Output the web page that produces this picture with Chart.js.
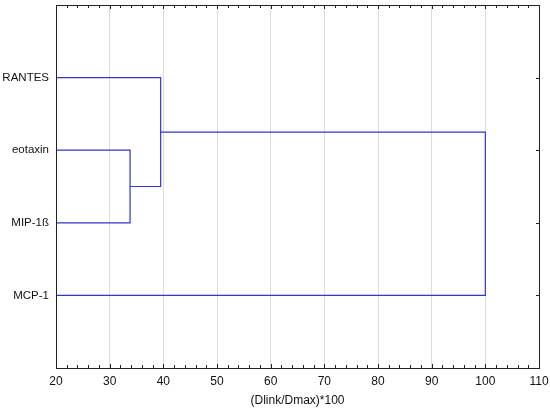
<!DOCTYPE html>
<html>
<head>
<meta charset="utf-8">
<script src="https://cdn.jsdelivr.net/npm/chart.js@4/dist/chart.umd.min.js"></script>
<style>
    body { margin: 0; background: #fff; }
</style>
</head>
<body>
<canvas id="dendro" width="550" height="409"></canvas>
<script>
// Leaves in display order (top to bottom)
const leaves = ['RANTES', 'eotaxin', 'MIP-1ß', 'MCP-1'];
// Each merge: two children (leaf index or 'c' + merge index) and linkage distance
const mergeLeft = [1, 0, 'c1'];
const mergeRight = [2, 'c0', 3];
const mergeDist = [33.8, 39.5, 100];
const xTicks = [20, 30, 40, 50, 60, 70, 80, 90, 100, 110];
const baseDist = 20;

// Work out position / height of every node, then build U-shaped paths
const nodePos = {};
const nodeHeight = {};
leaves.forEach((name, i) => {
    nodePos[i] = i + 1;
    nodeHeight[i] = baseDist;
});

const datasets = [];
mergeDist.forEach((d, i) => {
    const a = mergeLeft[i];
    const b = mergeRight[i];
    datasets.push({
        data: [
            { x: nodeHeight[a], y: nodePos[a] },
            { x: d, y: nodePos[a] },
            { x: d, y: nodePos[b] },
            { x: nodeHeight[b], y: nodePos[b] }
        ],
        showLine: true,
        borderColor: '#3535c8',
        borderWidth: 1.2,
        pointRadius: 0,
        fill: false
    });
    nodePos['c' + i] = (nodePos[a] + nodePos[b]) / 2;
    nodeHeight['c' + i] = d;
});

// Frame and inner tick marks
const framePlugin = {
    id: 'frame',
    afterDraw(chart) {
        const { ctx, chartArea: a, scales } = chart;
        ctx.save();
        ctx.strokeStyle = '#222';
        ctx.lineWidth = 1;
        ctx.beginPath();
        for (let v = 20; v <= 110; v += 2) {
            const x = Math.round(scales.x.getPixelForValue(v)) + 0.5;
            const len = v % 10 === 0 ? 4 : 3;
            ctx.moveTo(x, a.bottom);
            ctx.lineTo(x, a.bottom - len);
            ctx.moveTo(x, a.top);
            ctx.lineTo(x, a.top + len);
        }
        leaves.forEach((name, i) => {
            const y = Math.round(scales.y.getPixelForValue(i + 1)) + 0.5;
            ctx.moveTo(a.right, y);
            ctx.lineTo(a.right - 3, y);
        });
        ctx.stroke();
        ctx.strokeRect(Math.round(a.left) + 0.5, Math.round(a.top) + 0.5,
            Math.round(a.right - a.left), Math.round(a.bottom - a.top));
        ctx.restore();
    }
};

new Chart(document.getElementById('dendro'), {
    type: 'scatter',
    data: { datasets: datasets },
    options: {
        responsive: false,
        animation: false,
        layout: { autoPadding: false, padding: { top: 5, right: 11, left: 0, bottom: 0 } },
        plugins: {
            legend: { display: false },
            tooltip: { enabled: false }
        },
        scales: {
            x: {
                type: 'linear',
                min: 20,
                max: 110,
                afterBuildTicks(scale) {
                    scale.ticks = xTicks.map(v => ({ value: v }));
                },
                grid: { color: '#dcdcdc', drawTicks: false },
                border: { display: false },
                ticks: {
                    padding: 6,
                    color: '#111',
                    font: { family: 'Liberation Sans, Arial', size: 12 }
                },
                title: {
                    display: true,
                    text: '(Dlink/Dmax)*100',
                    color: '#111',
                    padding: { top: 2, bottom: 1 },
                    font: { family: 'Liberation Sans, Arial', size: 12 }
                },
                afterFit(scale) {
                    scale.height = 41;
                    scale.paddingLeft = 0;
                    scale.paddingRight = 0;
                }
            },
            y: {
                type: 'linear',
                reverse: true,
                min: 0,
                max: 5,
                afterBuildTicks(scale) {
                    scale.ticks = leaves.map((n, i) => ({ value: i + 1 }));
                },
                grid: { display: false, drawTicks: false },
                border: { display: false },
                ticks: {
                    padding: 7,
                    color: '#111',
                    font: { family: 'Liberation Sans, Arial', size: 11.5 },
                    callback: v => leaves[v - 1] || ''
                },
                afterFit(scale) {
                    scale.width = 56;
                    scale.paddingTop = 0;
                    scale.paddingBottom = 0;
                }
            }
        }
    },
    plugins: [framePlugin]
});
</script>
</body>
</html>
